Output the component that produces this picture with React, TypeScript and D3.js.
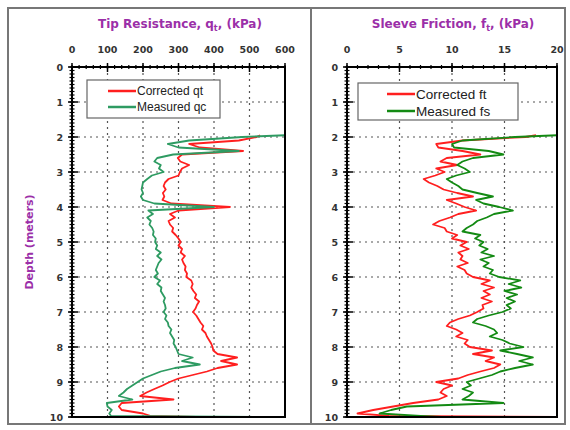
import React from 'react';
import * as d3 from 'd3';

// depth in metres, top to bottom
const depth = [
  1.95, 2, 2.1, 2.2, 2.3, 2.4, 2.5, 2.6, 2.7, 2.8, 2.9,
  3, 3.1, 3.2, 3.3, 3.4, 3.5, 3.6, 3.7, 3.8, 3.9,
  4, 4.1, 4.2, 4.3, 4.4, 4.5, 4.6, 4.7, 4.8, 4.9,
  5, 5.1, 5.2, 5.3, 5.4, 5.5, 5.6, 5.7, 5.8, 5.9,
  6, 6.1, 6.2, 6.3, 6.4, 6.5, 6.6, 6.7, 6.8, 6.9,
  7, 7.1, 7.2, 7.3, 7.4, 7.5, 7.6, 7.7, 7.8, 7.9,
  8, 8.1, 8.2, 8.3, 8.4, 8.5, 8.6, 8.7, 8.8, 8.9,
  9, 9.1, 9.2, 9.3, 9.4, 9.5, 9.6, 9.7, 9.8, 9.9, 9.97, 10,
];

// tip resistance (kPa)
const qt = [
  530, 520, 470, 330, 360, 482, 310, 298, 305, 330, 310,
  304, 300, 272, 262, 258, 264, 256, 260, 255, 280,
  445, 300, 276, 290, 272, 276, 285, 282, 292, 300,
  306, 300, 310, 306, 318, 310, 314, 320, 318, 324,
  322, 336, 340, 336, 342, 350, 346, 358, 352, 348,
  341, 350, 356, 362, 370, 366, 376, 380, 386, 392,
  396, 398, 410, 465, 420, 465, 410, 380, 340, 300,
  275, 255, 232, 210, 192, 286, 140, 132, 140, 200, 220, 350,
];
const qc = [
  600, 480, 330, 270, 300, 470, 285, 240, 232, 250, 245,
  258, 225, 212, 200, 198, 196, 200, 194, 200, 232,
  400, 215, 228, 212, 222, 218, 226, 230, 228, 236,
  234, 240, 236, 250, 240, 252, 244, 240, 236, 242,
  232, 248, 240, 252, 250, 256, 262, 258, 262, 264,
  258, 266, 262, 270, 272, 280, 276, 282, 288, 286,
  292, 296, 300, 340, 310, 360, 290, 250, 225, 200,
  185, 170, 155, 145, 132, 170, 98, 100, 112, 105, 110, 600,
];

// sleeve friction (kPa)
const ft = [
  18, 17, 11, 8.5, 8.7, 11, 12.7, 9.5, 8.9, 10.5, 8.5,
  9.3, 8.4, 7.3, 7.8, 8.6, 9.2, 10.5, 12, 9.5, 10.4,
  11.2, 12.3, 10.6, 9.8, 8.8, 8.2, 9.3, 9.5, 10.5, 10,
  11.4, 10.8, 11.6, 10.6, 11, 10.8, 11.5, 10.5, 11.2, 11.4,
  12, 13.6, 12.8, 14, 13, 13.6, 12.8, 13.8, 12.9, 13,
  12.4, 11.7, 10.6, 9.8, 9.5, 10.4, 11, 10.4, 11.5, 11.2,
  11.7, 13.8, 12, 14, 13.2, 14.6, 14, 12.7, 11.5, 10.6,
  8.5, 10, 9.2, 8.9, 9.5, 8.7, 6.3, 4.4, 2.5, 1, 4, 20,
];
const fs = [
  20, 16, 11, 10, 10.2, 13.5, 14.9, 12, 11, 10.5, 11.2,
  11.7, 10.4, 9.5, 10, 10.6, 11, 12.4, 13.9, 12.3, 13,
  14.5, 15.8, 14, 13.3, 12.4, 12, 11.4, 11, 12.7, 12.2,
  13, 12.6, 13.4, 12.8, 14, 12.7, 13.5, 13, 13.9, 13.6,
  14.5, 16.5, 15.4, 16.6, 15, 16.2, 15.2, 16, 15.2, 15.6,
  14.8, 13.5, 12.4, 12, 13.2, 14, 14.3, 13.6, 14.8, 15.5,
  16.8, 14.6, 16.2, 17.7, 16.4, 17.7, 16, 14.6, 13.8, 12.6,
  11.4, 11.8, 11, 12, 11.6, 11, 14.9, 5.7, 4.2, 3.1, 7, 9,
];

const depthTicks = [0, 1, 2, 3, 4, 5, 6, 7, 8, 9, 10];
const qTicks = [0, 100, 200, 300, 400, 500, 600];
const fTicks = [0, 5, 10, 15, 20];

const purple = '#9b2fa8';
const tickFont = '"DejaVu Sans", sans-serif';

type Series = { name: string; values: number[]; color: string };

function Panel(props: {
  id: string;
  left: number;
  right: number;
  top: number;
  bottom: number;
  xMax: number;
  xTicks: number[];
  minorStep: number;
  title: React.ReactNode;
  titleX: number;
  series: Series[];
  legend: { x: number; y: number; w: number; h: number; lineX: number; size: number; gap: number };
}) {
  const { id, left, right, top, bottom, xMax, xTicks, minorStep, series, legend } = props;
  const x = d3.scaleLinear().domain([0, xMax]).range([left, right]);
  const y = d3.scaleLinear().domain([0, 10]).range([top, bottom]);
  const minorX = d3.range(0, xMax + 1e-9, minorStep);
  const minorY = d3.range(0, 10.0001, 0.1);

  const line = (vals: number[]) =>
    d3
      .line<number>()
      .x((v) => x(v))
      .y((_, i) => y(depth[i]))(vals) || '';

  return (
    <g>
      <defs>
        <clipPath id={id}>
          <rect x={left} y={top} width={right - left} height={bottom - top} />
        </clipPath>
      </defs>
      <text x={props.titleX} y={28} textAnchor="middle" fill={purple}
        style={{ font: `bold 12px "DejaVu Sans", sans-serif` }}>
        {props.title}
      </text>

      {/* grid */}
      {xTicks.slice(1, -1).map((t) => (
        <line key={'gx' + t} x1={x(t)} x2={x(t)} y1={top} y2={bottom}
          stroke="#555" strokeWidth={1.2} strokeDasharray="2,4" />
      ))}
      {depthTicks.slice(1, -1).map((t) => (
        <line key={'gy' + t} x1={left} x2={right} y1={y(t)} y2={y(t)}
          stroke="#555" strokeWidth={1.2} strokeDasharray="2,4" />
      ))}

      {/* data */}
      <g clipPath={`url(#${id})`}>
        {series.map((s) => (
          <path key={s.name} d={line(s.values)} fill="none" stroke={s.color}
            strokeWidth={1.8} strokeLinejoin="round" />
        ))}
      </g>

      {/* frame */}
      <rect x={left} y={top} width={right - left} height={bottom - top}
        fill="none" stroke="#000" strokeWidth={2} />

      {/* minor ticks */}
      {minorX.map((t) => (
        <line key={'mx' + t} x1={x(t)} x2={x(t)} y1={top - 2} y2={top + 2} stroke="#000" strokeWidth={1.2} />
      ))}
      {minorY.map((t, i) => (
        <line key={'my' + i} x1={left - 2.5} x2={left + 2.5} y1={y(t)} y2={y(t)} stroke="#000" strokeWidth={1.2} />
      ))}
      {/* major ticks + labels */}
      {xTicks.map((t) => (
        <g key={'tx' + t}>
          <line x1={x(t)} x2={x(t)} y1={top - 4} y2={top + 5} stroke="#000" strokeWidth={1.5} />
          <text x={x(t)} y={top - 14} textAnchor="middle" fill="#333"
            style={{ font: `bold 9.5px ${tickFont}` }}>{t}</text>
        </g>
      ))}
      {depthTicks.map((t) => (
        <g key={'ty' + t}>
          <line x1={left - 4} x2={left + 6} y1={y(t)} y2={y(t)} stroke="#000" strokeWidth={1.5} />
          <text x={left - 9} y={y(t) + 3.5} textAnchor="end" fill="#333"
            style={{ font: `bold 9.5px ${tickFont}` }}>{t}</text>
        </g>
      ))}

      {/* legend */}
      <rect x={legend.x} y={legend.y} width={legend.w} height={legend.h}
        fill="#fff" stroke="#666" strokeWidth={1.2} />
      {series.map((s, i) => {
        const ly = legend.y + 11 + i * legend.gap;
        return (
          <g key={'lg' + s.name}>
            <line x1={legend.lineX} x2={legend.lineX + 28} y1={ly} y2={ly} stroke={s.color} strokeWidth={2.5} />
            <text x={legend.lineX + 29} y={ly + legend.size * 0.37} fill="#222"
              style={{ font: `${legend.size}px "Liberation Sans", Arial, sans-serif` }}>{s.name}</text>
          </g>
        );
      })}
    </g>
  );
}

export default function App() {
  return (
    <svg width={570} height={430} style={{ display: 'block', position: 'absolute', left: 0, top: 0 }}>
      <rect x={0} y={0} width={570} height={430} fill="#fff" />
      <rect x={8} y={8} width={557} height={416} fill="none" stroke="#777" strokeWidth={2} />
      <line x1={311} x2={311} y1={8} y2={424} stroke="#777" strokeWidth={2} />

      <text transform="translate(33,242) rotate(-90)" textAnchor="middle" fill={purple}
        style={{ font: `bold 11px "DejaVu Sans", sans-serif` }}>Depth (meters)</text>

      <Panel
        id="clipQ"
        left={72}
        right={285}
        top={67}
        bottom={417}
        xMax={600}
        xTicks={qTicks}
        minorStep={20}
        titleX={180}
        title={<>Tip Resistance, q<tspan fontSize={8} dy={3}>t</tspan><tspan dy={-3}>, (kPa)</tspan></>}
        series={[
          { name: 'Corrected qt', values: qt, color: '#ff1f1f' },
          { name: 'Measured qc', values: qc, color: '#2e9b62' },
        ]}
        legend={{ x: 87, y: 80, w: 133, h: 38, lineX: 108, size: 12, gap: 16 }}
      />
      <Panel
        id="clipF"
        left={347}
        right={557}
        top={67}
        bottom={417}
        xMax={20}
        xTicks={fTicks}
        minorStep={1}
        titleX={453}
        title={<>Sleeve Friction, f<tspan fontSize={8} dy={3}>t</tspan><tspan dy={-3}>, (kPa)</tspan></>}
        series={[
          { name: 'Corrected ft', values: ft, color: '#ff1f1f' },
          { name: 'Measured fs', values: fs, color: '#138a13' },
        ]}
        legend={{ x: 358, y: 83, w: 160, h: 37, lineX: 387, size: 13.5, gap: 17 }}
      />
    </svg>
  );
}
